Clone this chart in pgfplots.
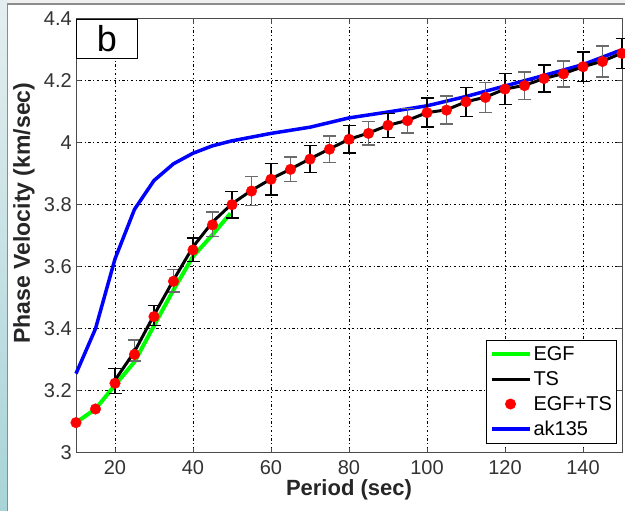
\documentclass[border=0pt]{standalone}
\usepackage{fontspec}
\setmainfont{Liberation Sans}
\usepackage{pgfplots}
\usepackage{pgfplotstable}
\pgfplotsset{compat=1.18}

\definecolor{egfgreen}{RGB}{0,255,0}
\definecolor{akblue}{RGB}{0,0,255}
\definecolor{dotred}{RGB}{255,0,0}
\definecolor{stripTop}{RGB}{228,238,240}
\definecolor{stripBot}{RGB}{168,212,216}

\pgfplotsset{
  longline legend/.style={legend image code/.code={\draw[##1] (0pt,0pt) -- (38pt,0pt);}},
  dot legend/.style={legend image code/.code={\fill[dotred] (19pt,0pt) circle (5pt);}},
}

% EGF+TS phase velocities, every 5 s
\pgfplotstableread{
x y
10 3.097
15 3.141
20 3.224
25 3.317
30 3.439
35 3.553
40 3.654
45 3.735
50 3.800
55 3.844
60 3.882
65 3.914
70 3.947
75 3.979
80 4.011
85 4.030
90 4.056
95 4.071
100 4.097
105 4.105
110 4.132
115 4.146
120 4.173
125 4.184
130 4.207
135 4.222
140 4.245
145 4.262
150 4.288
}\combined

% EGF dispersion curve (10-50 s)
\pgfplotstableread{
x y
10 3.097
15 3.141
20 3.218
25 3.293
30 3.410
35 3.525
40 3.633
45 3.703
49.6 3.772
}\egf

% TS dispersion curve
\pgfplotstableread{
x y
20 3.234
25 3.326
30 3.444
35 3.557
40 3.664
45 3.744
50 3.803
55 3.846
60 3.883
65 3.915
70 3.948
75 3.980
80 4.011
85 4.031
90 4.056
95 4.072
100 4.097
105 4.106
110 4.132
115 4.147
120 4.173
125 4.185
130 4.207
135 4.223
140 4.245
145 4.263
150 4.289
}\ts

% ak135 reference model
\pgfplotstableread{
x y
10 3.255
15 3.400
20 3.625
25 3.785
30 3.878
35 3.932
40 3.966
45 3.990
50 4.006
60 4.030
70 4.050
80 4.080
90 4.099
100 4.119
110 4.149
120 4.183
130 4.217
140 4.252
150 4.300
}\akmodel

% uncertainties, first set
\pgfplotstableread{
x y e
20 3.231 0.040
30 3.443 0.032
40 3.654 0.038
50 3.800 0.043
60 3.882 0.051
70 3.947 0.043
80 4.011 0.044
90 4.056 0.039
100 4.097 0.047
110 4.132 0.047
120 4.173 0.050
130 4.207 0.043
140 4.245 0.048
150 4.288 0.049
}\errA

% uncertainties, second set
\pgfplotstableread{
x y e
25 3.330 0.034
35 3.555 0.036
45 3.737 0.040
55 3.844 0.047
65 3.914 0.040
75 3.979 0.043
85 4.030 0.038
95 4.071 0.040
105 4.105 0.045
115 4.146 0.049
125 4.184 0.044
135 4.222 0.042
145 4.262 0.050
}\errB

\begin{document}
\begin{tikzpicture}[x=1pt,y=1pt]
\useasboundingbox (0,0) rectangle (625,511);
\fill[white] (0,0) rectangle (625,511);
\shade[top color=stripTop, bottom color=stripBot] (0,0) rectangle (7.5,511);
\fill[black!6] (7.5,507) rectangle (625,511);
\draw[black!45, line width=1.2pt] (7.5,0) -- (7.5,507) -- (625,507);

\begin{axis}[
  at={(76pt,58.3pt)}, anchor=south west,
  scale only axis, width=546pt, height=434pt,
  xmin=10, xmax=150, ymin=3, ymax=4.4,
  clip=false,
  axis line style={black!70, line width=0.9pt},
  xtick={20,40,60,80,100,120,140},
  xticklabels={20,40,60,80,100,120,140},
  ytick={3,3.2,3.4,3.6,3.8,4,4.2,4.4},
  yticklabels={3,3.2,3.4,3.6,3.8,4,4.2,4.4},
  tick align=inside,
  major tick length=5pt,
  tick style={black!70, line width=0.9pt},
  ticklabel style={font=\fontsize{20}{22}\selectfont, text=black!80},
  xticklabel style={inner sep=0pt, yshift=-8pt},
  yticklabel style={inner sep=0pt, xshift=-4pt},
  grid=major,
  major grid style={black, line width=0.7pt, dash pattern=on 1pt off 2.5pt on 2.5pt off 2.5pt},
  xlabel={Period (sec)},
  ylabel={Phase Velocity (km/sec)},
  xlabel style={font=\bfseries\fontsize{22}{24}\selectfont, text=black!85,
    at={(axis description cs:0.5,-0.0859)}, anchor=center},
  ylabel style={font=\bfseries\fontsize{23}{25}\selectfont, text=black!85,
    at={(axis description cs:-0.0952,0.552)}, anchor=center},
  legend cell align=left,
  legend style={at={(axis cs:148.8,3.029)}, anchor=south east,
    draw=black, line width=0.9pt, fill=white,
    font=\fontsize{20}{22}\selectfont,
    inner xsep=3pt, inner ysep=4pt, row sep=5.5pt},
]
\addplot[akblue, line width=3.5pt, forget plot] table[x=x,y=y]{\akmodel};
\addplot[egfgreen, line width=4pt, forget plot] table[x=x,y=y]{\egf};

\addplot[forget plot, only marks, mark=none,
  error bars/.cd, y dir=both, y explicit,
  error bar style={black!58, line width=1.4pt},
  error mark options={black!58, rotate=90, mark size=6.5pt, line width=1.4pt}]
  table[x=x,y=y,y error=e]{\errB};
\addplot[forget plot, only marks, mark=none,
  error bars/.cd, y dir=both, y explicit,
  error bar style={black, line width=1.4pt},
  error mark options={black, rotate=90, mark size=6.5pt, line width=1.4pt}]
  table[x=x,y=y,y error=e]{\errA};

\addplot[black, line width=3pt, forget plot] table[x=x,y=y]{\ts};
\addplot[only marks, mark=*, mark size=5.3pt, dotred, draw=dotred, forget plot]
  table[x=x,y=y]{\combined};

% legend entries
\addlegendimage{egfgreen, line width=4pt, longline legend}
\addlegendentry{EGF}
\addlegendimage{black, line width=3pt, longline legend}
\addlegendentry{TS}
\addlegendimage{dotred, dot legend}
\addlegendentry{EGF+TS}
\addlegendimage{akblue, line width=4pt, longline legend}
\addlegendentry{ak135}

\node[draw=black, line width=0.9pt, fill=white, anchor=north west,
  minimum width=61pt, minimum height=39pt, inner sep=0pt,
  font=\fontsize{36}{36}\selectfont] at (rel axis cs:0,1) {b};
\end{axis}
\end{tikzpicture}
\end{document}
